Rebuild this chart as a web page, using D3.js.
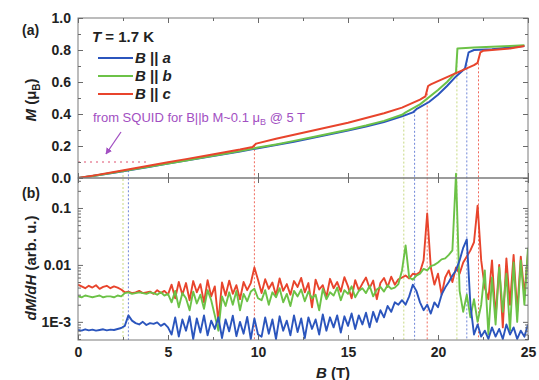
<!DOCTYPE html>
<html><head><meta charset="utf-8">
<script src="https://cdn.jsdelivr.net/npm/d3@7"></script>
<style>
html,body{margin:0;padding:0;background:#fff;}
svg{display:block;}
text{font-family:"Liberation Sans",Arial,sans-serif;}
</style></head>
<body><svg id="chart" width="539" height="380"></svg>
<script>
// ---------- DATA ----------
const seriesKeys = ["a","b","c"];
const seriesLabels = ["a","b","c"];
const xTicks = [0,5,10,15,20,25];
const xMinorTicks = [2.5,7.5,12.5,17.5,22.5];
const mTicks = [0.0,0.2,0.4,0.6,0.8,1.0];
const mMinorTicks = [0.1,0.3,0.5,0.7,0.9];
const dTicks = [1,10,100];            // in units of 1e-3 arb. u.
const dTickLabels = ["1E-3","0.01","0.1"];

// Magnetization M (muB) vs B (T)
const B_Ma = [0,1,2,3,4,5,6,7,8,9,10,11,12,13,14,15,16,17,18,18.6,18.8,19.5,20,20.5,21,21.5,21.7,22,23,24,24.8];
const M_a  = [0,0.016,0.033,0.052,0.071,0.09,0.109,0.128,0.147,0.166,0.186,0.206,0.227,0.25,0.273,0.297,0.322,0.35,0.385,0.41,0.43,0.475,0.52,0.575,0.635,0.685,0.785,0.8,0.805,0.815,0.825];
const B_Mb = [0,1,2,3,4,5,6,7,8,9,10,11,12,13,14,15,16,17,18,18.2,19,20,20.5,21,21.08,22,23,24,24.8];
const M_b  = [0,0.016,0.034,0.053,0.072,0.091,0.11,0.129,0.148,0.168,0.19,0.21,0.232,0.255,0.278,0.302,0.328,0.357,0.395,0.41,0.46,0.55,0.6,0.66,0.81,0.815,0.82,0.825,0.83];
const B_Mc = [0,1,2,3,4,5,6,7,8,9,9.7,9.9,11,12,13,14,15,16,17,18,19,19.3,19.45,19.6,20,20.5,21,21.5,22,22.2,22.35,22.5,23,24,24.8];
const M_c  = [0,0.018,0.038,0.058,0.078,0.098,0.118,0.138,0.158,0.178,0.194,0.215,0.245,0.27,0.295,0.32,0.345,0.375,0.405,0.44,0.49,0.51,0.575,0.585,0.605,0.63,0.655,0.68,0.705,0.72,0.785,0.795,0.8,0.81,0.825];

// dM/dH (units of 1e-3 arb. u.) sampled every 0.2 T from 0 to 25 T
const dB = 0.2;
const D_a = [0.72,0.70,0.74,0.71,0.73,0.70,0.72,0.74,0.71,0.73,0.72,0.75,0.78,
 0.85,1.3,1.05,0.95,0.9,1.0,0.88,0.95,0.92,0.98,0.85,0.93,0.8,
 0.6,1.2,0.55,1.1,0.7,1.25,0.5,1.15,0.65,1.3,0.58,1.05,0.75,1.2,0.52,1.1,0.68,1.28,0.56,1.0,0.62,1.22,0.5,
 1.15,0.6,
 0.55,1.2,0.62,1.1,0.5,1.25,0.7,1.05,0.58,1.3,0.66,1.15,0.52,1.2,0.75,1.1,0.6,1.35,0.7,1.2,0.8,1.3,0.65,1.25,0.85,1.4,0.75,1.3,0.9,1.45,0.8,1.5,1.0,1.6,1.2,1.9,1.5,2.2,2.0,
 2.4,2.0,2.8,4.5,3.5,2.2,1.6,2.0,1.4,2.2,1.8,3.0,4.0,5.0,6.5,8,12,20,28,2.0,0.6,0.9,0.55,0.7,0.5,0.8,0.55,0.75,0.5,0.9,0.6,0.8,0.5,0.7,0.55,0.9];
const D_b = [2.8,2.7,2.9,2.8,2.7,2.8,2.9,2.7,2.8,2.8,2.7,2.9,2.8,
 3.2,3.3,3.1,3.2,3.3,3.2,3.1,3.3,3.2,3.0,3.3,2.9,3.1,
 2.2,3.5,1.8,3.2,2.6,1.6,3.4,2.1,3.0,1.7,3.6,2.4,1.3,0.7,2.8,1.9,3.3,2.0,3.5,1.6,3.1,2.3,3.4,
 3.8,2.6,
 2.4,3.6,2.0,3.3,2.7,3.9,2.2,3.1,1.9,3.5,2.8,3.7,2.3,3.4,2.6,3.0,1.6,3.8,2.5,3.3,2.9,4.0,2.4,3.6,3.1,4.2,2.7,3.5,3.9,3.2,4.3,2.8,3.7,4.1,3.4,4.4,3.8,4.0,4.6,
 8,22,6,5.5,6.5,7,8.5,8,9.5,10,11,12.5,13,15,18,400,3.5,1.5,3.0,1.2,2.5,1.0,2.0,8,0.6,6,0.9,9,1.5,7,0.7,11,1.0,12,2.0,20];
const D_c = [4.5,4.2,3.9,4.3,4.0,4.4,3.8,4.1,4.3,3.9,4.2,4.0,3.7,
 3.3,3.4,3.2,3.3,3.5,3.2,3.3,3.4,3.1,3.6,3.2,3.5,3.0,
 4.5,2.6,5.0,3.0,4.8,2.4,5.2,3.3,4.6,2.2,5.4,2.8,4.2,1.0,4.9,2.9,5.3,3.1,4.4,2.5,5.0,3.6,4.8,
 9.0,5.5,
 3.2,5.6,3.8,4.9,2.9,5.8,3.5,4.6,3.0,5.2,4.1,5.9,3.3,4.8,1.8,5.5,3.7,4.4,2.7,5.7,3.9,5.0,3.4,6.1,4.2,2.6,5.4,3.6,4.7,6.0,3.9,5.3,2.5,4.8,5.9,4.1,6.2,4.5,5.6,
 6.0,6.5,5.8,7.0,6.8,7.5,12,80,9,4.5,7.0,3.0,6.0,8.0,5.0,9.0,7.0,11,14,18,25,110,12,4.0,2.5,12,1.2,10,0.8,13,2.0,15,1.5,14,3.0,16];

// transition markers (T)
const markerB = [2.5,2.8,9.8,18.1,18.7,19.4,21.05,21.6,22.25];
const markerSeries = ["b","a","c","b","a","c","b","a","c"];

// ---------- STYLE ----------
const colors = {a:"#2b55bd", b:"#6cc247", c:"#e8442c"};
const markColors = {a:"#6f86d8", b:"#c7d982", c:"#f06a5c"};
const svg = d3.select("#chart");
const L=78, R=528, T1=18, B1=178, B2=340;

const x = d3.scaleLinear().domain([0,25]).range([L,R]);
const yM = d3.scaleLinear().domain([0,1]).range([B1,T1]);
const yD = d3.scaleLog().domain([0.48,336]).range([B2,B1]);

const defs = svg.append("defs");
defs.append("clipPath").attr("id","clipA").append("rect").attr("x",L).attr("y",T1).attr("width",R-L).attr("height",B1-T1);
defs.append("clipPath").attr("id","clipB").append("rect").attr("x",L).attr("y",B1-12).attr("width",R-L).attr("height",B2-B1+12);
defs.append("marker").attr("id","arr").attr("viewBox","0 0 10 10").attr("refX",9).attr("refY",5)
  .attr("markerWidth",5).attr("markerHeight",5).attr("orient","auto")
  .append("path").attr("d","M0,0L10,5L0,10z").attr("fill","#a24fc2");

const Mdata = {
  a: B_Ma.map((b,i)=>[b,M_a[i]]),
  b: B_Mb.map((b,i)=>[b,M_b[i]]),
  c: B_Mc.map((b,i)=>[b,M_c[i]])
};
const Ddata = {
  a: D_a.map((v,i)=>[i*dB,v]),
  b: D_b.map((v,i)=>[i*dB,v]),
  c: D_c.map((v,i)=>[i*dB,v])
};
function interpM(k,b){
  const d=Mdata[k];
  for(let i=1;i<d.length;i++){
    if(d[i][0]>=b){const t=(b-d[i-1][0])/(d[i][0]-d[i-1][0]);return d[i-1][1]+t*(d[i][1]-d[i-1][1]);}
  }
  return d[d.length-1][1];
}

// marker vertical dotted lines
const gMk = svg.append("g");
markerB.forEach((b,i)=>{
  const k=markerSeries[i];
  gMk.append("line").attr("x1",x(b)).attr("x2",x(b))
    .attr("y1",yM(interpM(k,b))).attr("y2",B2)
    .attr("stroke",markColors[k]).attr("stroke-width",1).attr("stroke-dasharray","2,2");
});

// SQUID horizontal dotted
svg.append("line").attr("x1",x(0)).attr("x2",x(3.9)).attr("y1",yM(0.1)).attr("y2",yM(0.1))
  .attr("stroke","#e0506e").attr("stroke-width",1.2).attr("stroke-dasharray","2,4");

// top panel curves
const lineM = d3.line().x(d=>x(d[0])).y(d=>yM(d[1]));
const gA = svg.append("g").attr("clip-path","url(#clipA)");
seriesKeys.forEach(k=>{
  gA.append("path").datum(Mdata[k]).attr("d",lineM).attr("fill","none")
    .attr("stroke",colors[k]).attr("stroke-width",2).attr("stroke-linejoin","round");
});

// bottom panel curves
const lineD = d3.line().x(d=>x(d[0])).y(d=>yD(d[1]));
const gB = svg.append("g").attr("clip-path","url(#clipB)");
["c","b","a"].forEach(k=>{
  gB.append("path").datum(Ddata[k]).attr("d",lineD).attr("fill","none")
    .attr("stroke",colors[k]).attr("stroke-width",1.9).attr("stroke-linejoin","round");
});

// frames
[[T1,B1],[B1,B2]].forEach(([t,b])=>{
  svg.append("rect").attr("x",L).attr("y",t).attr("width",R-L).attr("height",b-t)
    .attr("fill","none").attr("stroke","#7a7a7a").attr("stroke-width",1);
});

// axes helper
function ax(gen, tx, ty, vals, size, fmt){
  const g = svg.append("g").attr("transform",`translate(${tx},${ty})`)
    .call(gen.tickValues(vals).tickSize(size).tickPadding(7).tickFormat(fmt));
  g.select(".domain").remove();
  g.selectAll(".tick line").attr("stroke","#6a6a6a");
  g.selectAll("text").attr("font-size",14).attr("font-weight","bold").attr("fill","#222");
  return g;
}
const none = ()=>"";
// panel a
ax(d3.axisLeft(yM), L,0, mTicks, -5, d3.format(".1f"));
ax(d3.axisLeft(yM), L,0, mMinorTicks, -3, none);
ax(d3.axisRight(yM), R,0, mTicks, -5, none);
ax(d3.axisRight(yM), R,0, mMinorTicks, -3, none);
ax(d3.axisTop(x), 0,T1, xTicks, -5, none);
ax(d3.axisTop(x), 0,T1, xMinorTicks, -3, none);
ax(d3.axisBottom(x), 0,B1, xTicks, -5, none);
ax(d3.axisTop(x), 0,B1, xTicks, -5, none);
// panel b
const dMinor = yD.ticks().filter(v=>!dTicks.includes(v));
ax(d3.axisLeft(yD), L,0, dTicks, -5, (d,i)=>dTickLabels[i]);
ax(d3.axisLeft(yD), L,0, dMinor, -3, none);
ax(d3.axisRight(yD), R,0, dTicks, -5, none);
ax(d3.axisRight(yD), R,0, dMinor, -3, none);
ax(d3.axisBottom(x), 0,B2, xTicks, -5, d3.format("d"));
ax(d3.axisBottom(x), 0,B2, xMinorTicks, -3, none);

// panel labels
svg.append("text").attr("x",22).attr("y",35).attr("font-size",14).attr("font-weight","bold").attr("fill","#222").text("(a)");
svg.append("text").attr("x",22).attr("y",198).attr("font-size",14).attr("font-weight","bold").attr("fill","#222").text("(b)");

// axis titles
const yt1 = svg.append("text").attr("transform","translate(36,100) rotate(-90)").attr("text-anchor","middle")
  .attr("font-size",15).attr("font-weight","bold").attr("fill","#222");
yt1.append("tspan").attr("font-style","italic").text("M");
yt1.append("tspan").text(" (μ");
yt1.append("tspan").attr("font-size",10).attr("dy",4).text("B");
yt1.append("tspan").attr("dy",-4).text(")");

const yt2 = svg.append("text").attr("transform","translate(36,268) rotate(-90)").attr("text-anchor","middle")
  .attr("font-size",15).attr("font-weight","bold").attr("fill","#222");
yt2.append("tspan").attr("font-style","italic").text("dM/dH");
yt2.append("tspan").text(" (arb. u.)");

const xt = svg.append("text").attr("x",333).attr("y",378).attr("text-anchor","middle")
  .attr("font-size",15).attr("font-weight","bold").attr("fill","#222");
xt.append("tspan").attr("font-style","italic").text("B");
xt.append("tspan").text(" (T)");

// legend
const tT = svg.append("text").attr("x",92).attr("y",42).attr("font-size",15).attr("font-weight","bold").attr("fill","#222");
tT.append("tspan").attr("font-style","italic").text("T");
tT.append("tspan").text(" = 1.7 K");
seriesKeys.forEach((k,i)=>{
  const y = 58 + i*18;
  svg.append("line").attr("x1",98).attr("x2",133).attr("y1",y).attr("y2",y).attr("stroke",colors[k]).attr("stroke-width",2);
  const t = svg.append("text").attr("x",135).attr("y",y+5).attr("font-size",15).attr("font-weight","bold").attr("fill","#222");
  t.append("tspan").attr("font-style","italic").text("B");
  t.append("tspan").text(" || ");
  t.append("tspan").attr("font-style","italic").text(seriesLabels[i]);
});

// annotation
const an = svg.append("text").attr("x",93).attr("y",122).attr("font-size",13).attr("fill","#a24fc2");
an.append("tspan").text("from SQUID for B||b M~0.1 μ");
an.append("tspan").attr("font-size",9).attr("dy",3).text("B");
an.append("tspan").attr("dy",-3).text(" @ 5 T");
svg.append("line").attr("x1",121).attr("y1",132).attr("x2",106).attr("y2",154)
  .attr("stroke","#a24fc2").attr("stroke-width",1.3).attr("marker-end","url(#arr)");
</script></body></html>
